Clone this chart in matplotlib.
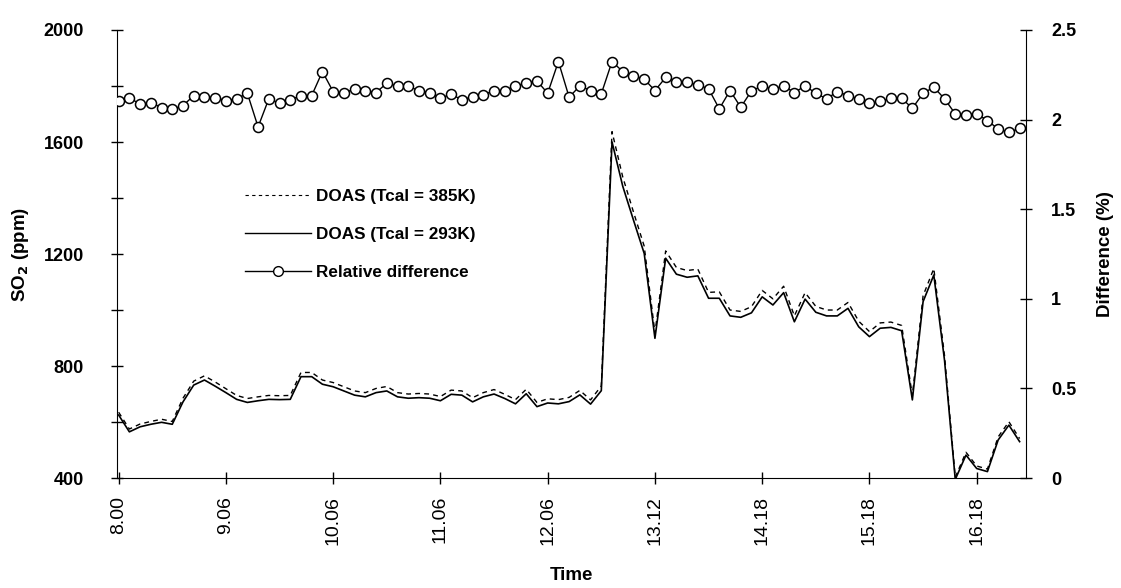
import matplotlib
matplotlib.use('Agg')
import matplotlib.pyplot as plt
from matplotlib.lines import Line2D

plt.rcParams['font.family'] = ['Liberation Sans', 'DejaVu Sans']

# SO2 (ppm), one value per sample
so2_293 = [625, 565, 583, 592, 599, 592, 672, 732, 750, 728,
           705, 681, 670, 676, 681, 680, 681, 762, 762, 735,
           726, 711, 696, 690, 705, 711, 690, 685, 687, 685,
           676, 699, 696, 672, 690, 700, 684, 665, 701, 655,
           668, 665, 673, 697, 664, 712, 1600, 1442, 1321, 1202,
           899, 1185, 1128, 1117, 1122, 1042, 1042, 979, 974, 990,
           1047, 1018, 1062, 958, 1039, 992, 979, 979, 1006, 940,
           905, 935, 938, 926, 679, 1030, 1125, 820, 395, 482,
           434, 423, 536, 589, 530]
so2_385 = [635, 575, 593, 602, 610, 602, 685, 746, 765, 743,
           719, 695, 684, 690, 695, 694, 695, 777, 777, 750,
           741, 726, 711, 705, 720, 727, 705, 700, 702, 700,
           691, 714, 711, 687, 705, 716, 699, 680, 717, 670,
           683, 680, 688, 713, 679, 729, 1637, 1475, 1350, 1228,
           918, 1211, 1152, 1141, 1146, 1063, 1065, 1000, 995, 1012,
           1070, 1040, 1085, 979, 1062, 1013, 1000, 1000, 1027, 960,
           923, 954, 957, 945, 694, 1051, 1148, 837, 403, 492,
           443, 432, 547, 601, 541]
# relative difference (%)
rel_diff = [2.104, 2.123, 2.085, 2.095, 2.067, 2.058, 2.078, 2.134, 2.125, 2.123,
            2.106, 2.116, 2.147, 1.959, 2.116, 2.091, 2.110, 2.134, 2.134, 2.268,
            2.156, 2.147, 2.172, 2.162, 2.151, 2.203, 2.188, 2.188, 2.160, 2.151,
            2.119, 2.142, 2.110, 2.128, 2.138, 2.162, 2.162, 2.188, 2.203, 2.216,
            2.147, 2.324, 2.125, 2.188, 2.162, 2.144, 2.324, 2.268, 2.245, 2.226,
            2.162, 2.235, 2.212, 2.208, 2.194, 2.172, 2.060, 2.162, 2.069, 2.160,
            2.188, 2.170, 2.188, 2.151, 2.188, 2.147, 2.116, 2.156, 2.134, 2.116,
            2.091, 2.101, 2.119, 2.119, 2.063, 2.147, 2.181, 2.116, 2.032, 2.026,
            2.034, 1.994, 1.948, 1.929, 1.951]
time_labels = ['8.00', '9.06', '10.06', '11.06', '12.06', '13.12', '14.18', '15.18', '16.18']

x = list(range(len(so2_293)))

fig = plt.figure(figsize=(11.21, 5.88), dpi=100)
ax1 = fig.add_axes([0.1044, 0.187, 0.8109, 0.762])
ax2 = ax1.twinx()

ax1.plot(x, so2_385, color='black', lw=1.0, ls=(0, (3.5, 3)))
ax1.plot(x, so2_293, color='black', lw=1.2)
ax2.plot(x, rel_diff, color='black', lw=1.0, marker='o', ms=7.2,
         mfc='white', mec='black', mew=1.1)

ax1.set_xlim(-0.15, 84.6)
ax1.set_ylim(400, 2000)
ax2.set_ylim(0, 2.5)

ax1.set_xticks(range(0, 81, 10))
ax1.set_xticklabels(time_labels, rotation=90, fontsize=14)
ax1.set_yticks(range(400, 2001, 200))
ax1.set_yticklabels([str(v) if v % 400 == 0 else '' for v in range(400, 2001, 200)],
                    fontsize=13, fontweight='bold')
ax2.set_yticks([0, 0.5, 1, 1.5, 2, 2.5])
ax2.set_yticklabels(['0', '0.5', '1', '1.5', '2', '2.5'], fontsize=13, fontweight='bold')

ax1.tick_params(axis='both', direction='inout', length=8, width=1)
ax1.tick_params(axis='y', pad=20)
ax1.tick_params(axis='x', pad=9)
ax2.tick_params(axis='y', direction='inout', length=8, width=1, pad=14)

for s in ['top', 'right']:
    ax1.spines[s].set_visible(False)
for s in ['top', 'left', 'bottom']:
    ax2.spines[s].set_visible(False)

ax1.set_ylabel('SO$_\\mathbf{2}$ (ppm)', fontsize=13.5, fontweight='bold', labelpad=9)
ax2.set_ylabel('Difference (%)', fontsize=13.5, fontweight='bold', labelpad=15)
ax1.set_xlabel('Time', fontsize=13.5, fontweight='bold', labelpad=16)

handles = [
    Line2D([], [], color='black', lw=0.8, ls=(0, (3, 3))),
    Line2D([], [], color='black', lw=1.0),
    Line2D([], [], color='black', lw=1.0, marker='o', ms=7, mfc='white', mec='black'),
]
labels = ['DOAS (Tcal = 385K)', 'DOAS (Tcal = 293K)', 'Relative difference']
ax2.legend(handles, labels, loc='upper left', bbox_to_anchor=(236 / 1121, 1 - 180 / 588),
           bbox_transform=fig.transFigure, frameon=False, borderpad=0,
           handlelength=3.9, handletextpad=0.3, labelspacing=1.36,
           prop={'weight': 'bold', 'size': 12.3})

fig.savefig('out.png', dpi=100)
